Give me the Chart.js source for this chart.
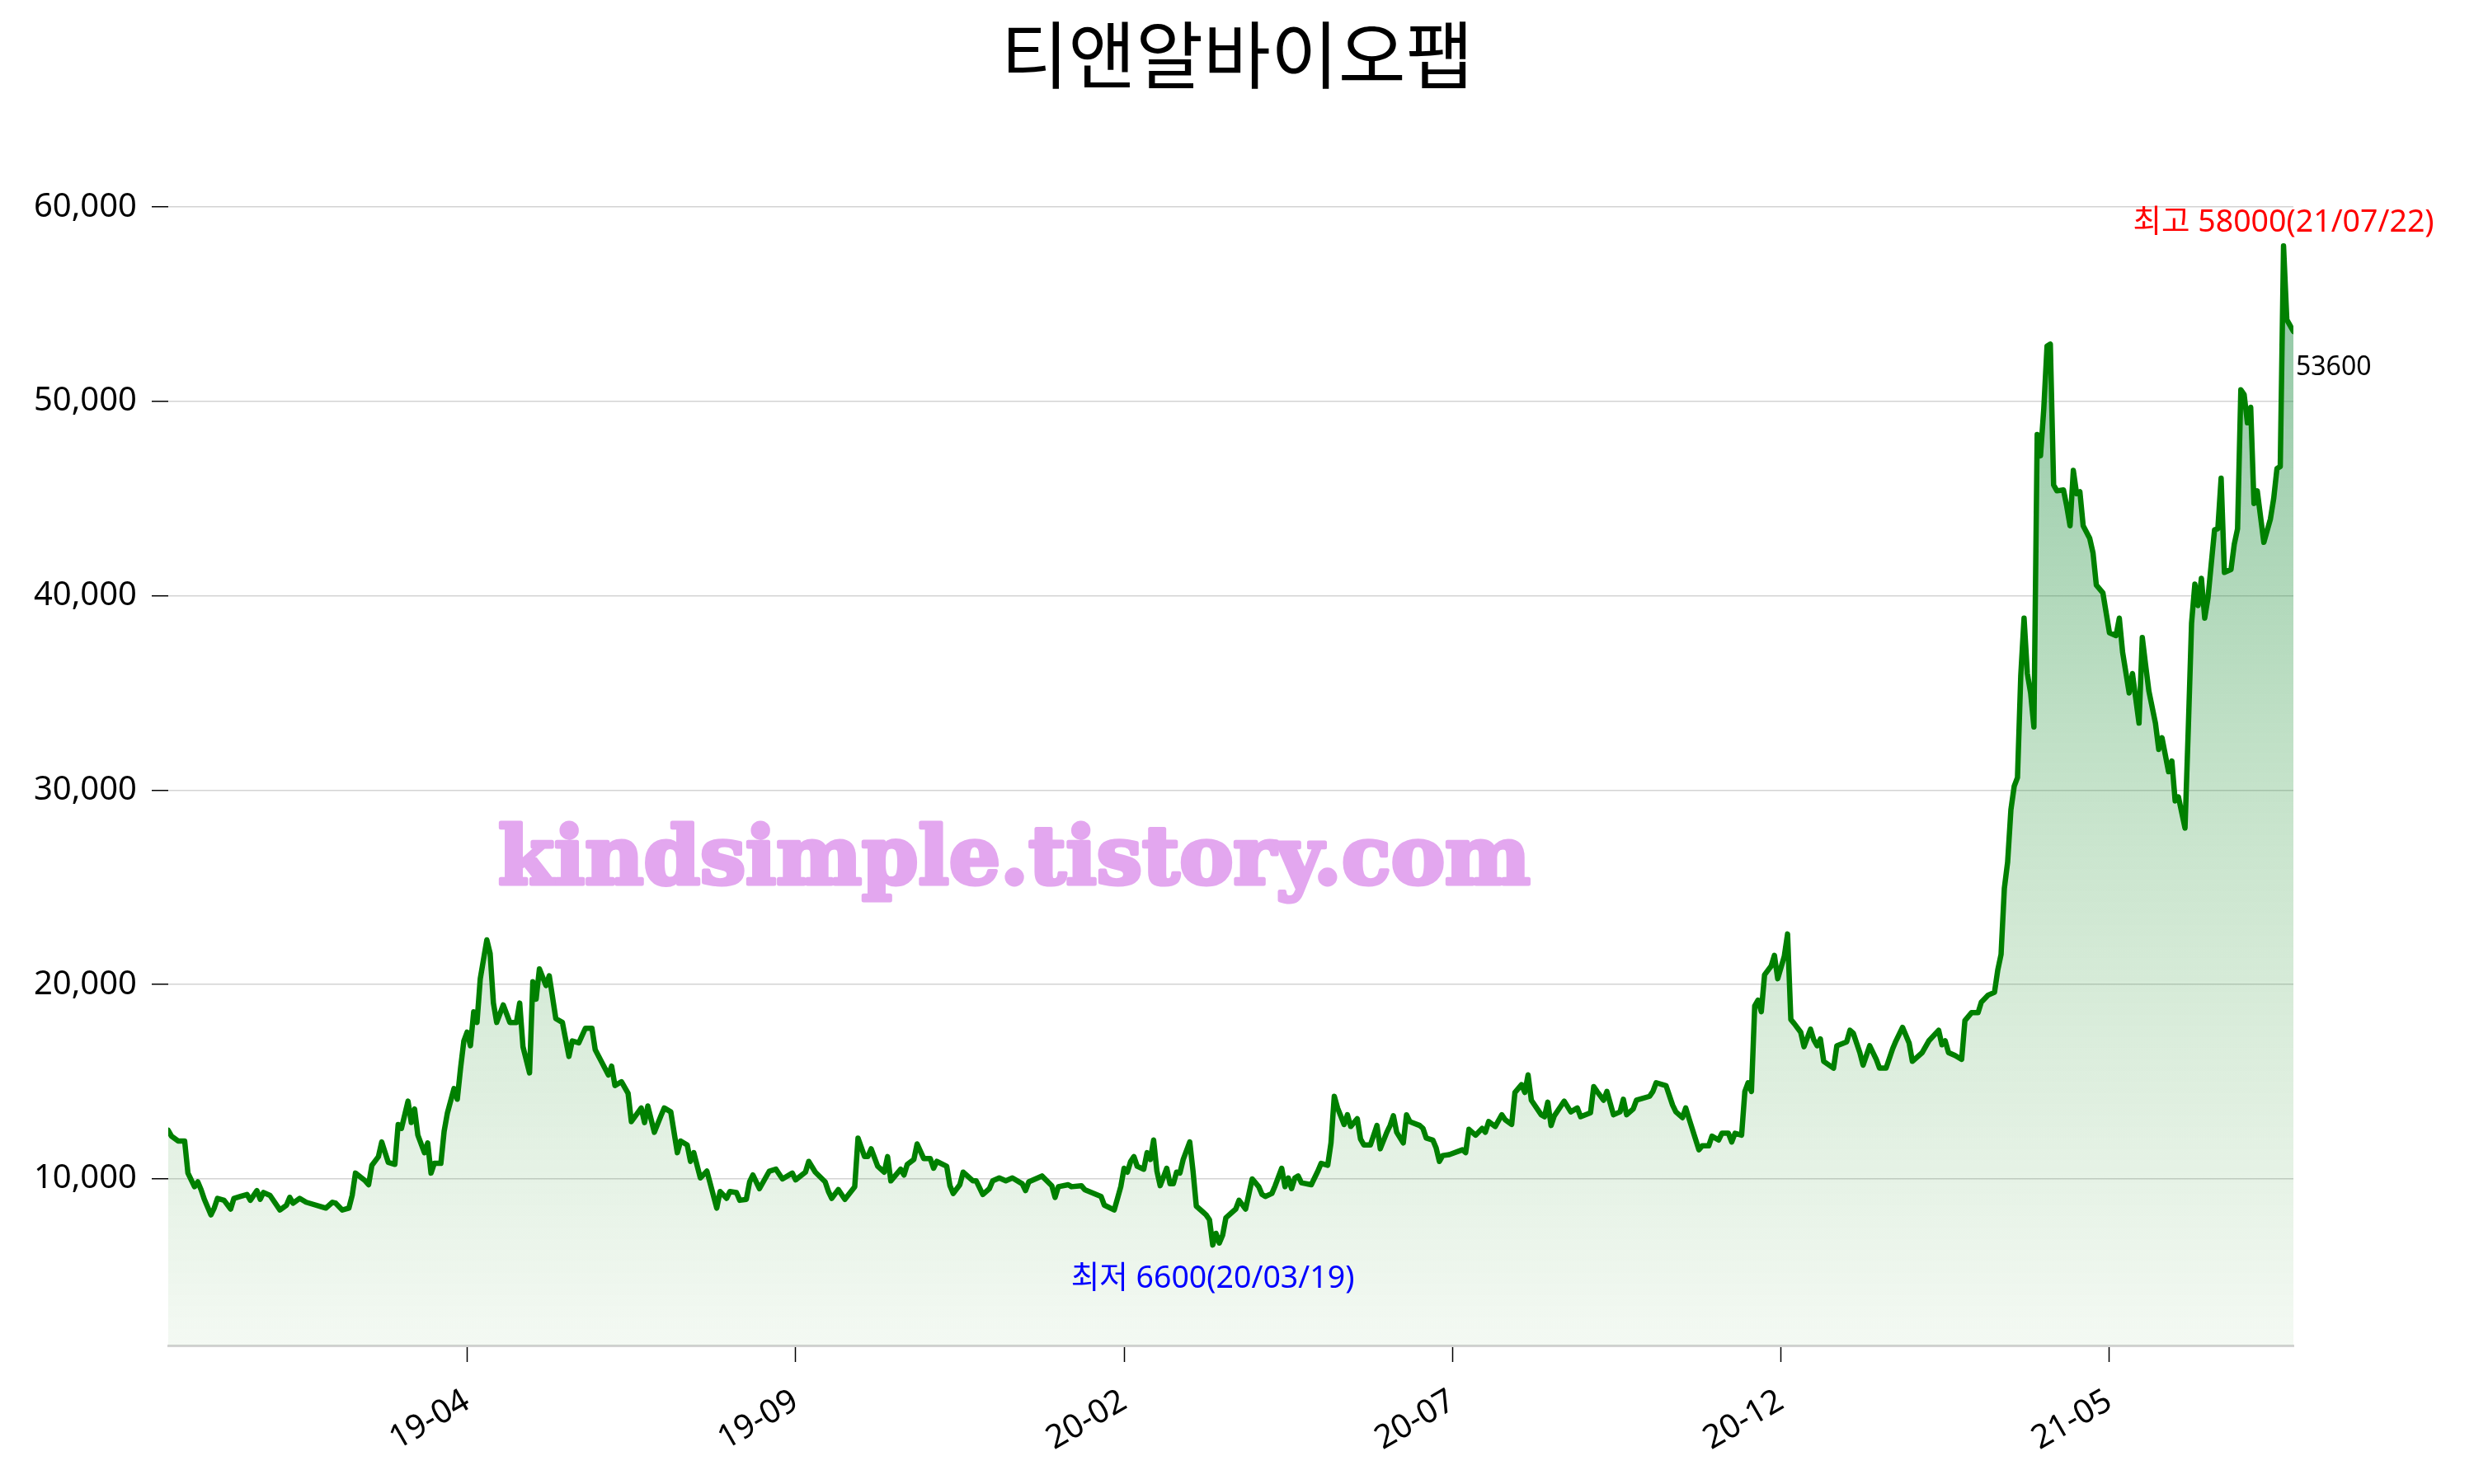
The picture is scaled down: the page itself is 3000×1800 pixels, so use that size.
<!DOCTYPE html>
<html lang="ko">
<head>
<meta charset="utf-8">
<title>티앤알바이오팹</title>
<script src="https://cdn.jsdelivr.net/npm/chart.js@4.4.1/dist/chart.umd.min.js"></script>
<style>
    html, body { margin: 0; padding: 0; background: #fff; }
    #wrap { width: 3000px; height: 1800px; }
</style>
</head>
<body>
<div id="wrap"><canvas id="priceChart" width="3000" height="1800"></canvas></div>
<script>
// ===== 1. 데이터 =====
const chartTitle = '티앤알바이오팹';

// 거래일 순번 (0 = 첫 거래일)
const dayIndex = [
    0, 1, 3, 5, 6, 8, 9, 10, 11, 13, 14, 15, 17, 19, 20, 22, 24, 25, 27, 28, 29, 31, 34, 36, 37, 38, 40, 42, 48, 50,
    51, 53, 55, 56, 57, 60, 61, 62, 64, 65, 67, 69, 70, 71, 73, 74, 75, 76, 78, 79, 80, 81, 83, 84, 85, 87, 88, 89, 90, 91,
    92, 93, 94, 95, 96, 97, 98, 99, 100, 102, 104, 106, 107, 108, 110, 111, 112, 113, 115, 116, 118, 120, 122, 123, 125, 127, 129, 130, 132, 134,
    135, 136, 138, 140, 141, 144, 145, 146, 148, 150, 151, 153, 155, 156, 158, 159, 160, 162, 164, 167,
    168, 170, 171, 173, 174, 176, 177, 178, 180, 183, 185, 187, 190, 191, 194, 195, 197, 200, 201, 202, 204, 206, 209, 210, 212, 213, 214, 216, 218, 219,
    220, 223, 224, 225, 227, 228, 230, 232, 233, 234, 237, 238, 239, 241, 242, 243, 245, 246, 248, 250, 251, 253, 255, 257, 260, 261, 262, 266, 269, 270,
    271, 274, 275, 278, 279, 284, 285, 288, 289, 290, 291, 292, 293, 294, 295, 297, 298, 299, 300, 301, 302, 304, 305, 306, 307, 308, 309, 311, 312, 313,
    315, 316, 317, 318, 319, 320, 321, 322, 324, 325, 326, 328, 330, 332, 333, 334, 336, 337, 339, 340, 341, 342,
    343, 344, 345, 348, 350, 351, 353, 354, 355, 356, 358, 359, 360, 362, 363, 364, 366, 368, 369, 371, 372, 373, 374, 376, 377, 378, 381, 382, 383, 385,
    386, 387, 388, 390, 394, 395, 396, 398, 400, 401, 402, 404, 406, 407, 409, 410, 412, 413, 414, 415, 418, 419, 420, 421, 422, 424, 425, 427, 429, 430,
    433, 434, 435, 437, 438, 440, 442, 443, 444, 446, 447, 451, 452, 453, 456, 458, 459, 461, 462, 463, 466, 467, 469, 470, 472, 473, 475, 476, 477, 479,
    480, 481, 482, 483, 484, 485, 486, 488, 489, 490, 492, 493, 494, 495, 497, 498, 500, 501, 502, 503, 504, 507, 508, 511,
    512, 513, 515, 516, 518, 520, 521, 523, 525, 526, 528, 530, 531, 534, 536, 539, 540, 541, 542, 544, 546, 547, 549, 551, 552, 554, 556, 557, 558, 559,
    560, 561, 562, 563, 564, 565, 566, 567, 568, 569, 570, 571, 572, 573, 574, 575, 577, 578, 579, 580, 581, 582, 583, 585, 586, 587, 589, 591, 593, 594,
    595, 597, 598, 600, 601, 602, 603, 605, 606, 607, 609, 610, 611, 612, 614, 615, 616, 617, 618, 619, 620, 621, 623, 624, 625, 626, 628, 629, 630, 631,
    632, 633, 634, 635, 636, 638, 640, 641, 642, 643, 644, 645, 646, 647
];

// 종가 (원)
const price = [
    12500, 12200, 11950, 11950, 10300, 9600, 9850, 9450, 8950, 8150, 8500, 9000, 8900, 8450, 9000, 9100, 9200, 8900, 9400, 8950, 9300, 9150, 8400, 8650, 9050, 8750, 9000, 8800, 8500, 8800,
    8750, 8400, 8500, 9150, 10300, 9900, 9700, 10700, 11150, 11900, 10850, 10750, 12800, 12600, 14000, 12900, 13600, 12250, 11350, 11850, 10300, 10800, 10800, 12450, 13400, 14650, 14100, 15700, 17100, 17550,
    16850, 18600, 18050, 20300, 21300, 22300, 21600, 19050, 18050, 18950, 18050, 18050, 19050, 16800, 15450, 20150, 19250, 20800, 19950, 20450, 18250, 18050, 16300, 17100, 17000, 17750, 17750, 16650, 16000, 15350,
    15800, 14800, 15000, 14400, 12950, 13650, 12900, 13750, 12400, 13250, 13650, 13450, 11350, 11950, 11750, 10900, 11350, 10050, 10400, 8500,
    9350, 9000, 9350, 9300, 8900, 8950, 9850, 10200, 9500, 10400, 10500, 10000, 10300, 9950, 10350, 10900, 10350, 9850, 9350, 9000, 9450, 8950, 9600, 12100, 11150, 11150, 11550, 10650, 10350, 11150,
    9900, 10500, 10200, 10750, 11000, 11800, 11050, 11050, 10550, 10900, 10650, 9650, 9250, 9700, 10350, 10200, 9900, 9900, 9200, 9500, 9900, 10050, 9900, 10050, 9750, 9400, 9850, 10150, 9650, 9050,
    9600, 9700, 9600, 9650, 9450, 9100, 8650, 8400, 9000, 9600, 10550, 10350, 10900, 11150, 10650, 10500, 11350, 11000, 12000, 10400, 9650, 10550, 9750, 9750, 10350, 10300, 11000, 11900, 10400, 8600,
    8300, 8150, 7900, 6600, 7200, 6700, 7100, 8000, 8300, 8450, 8900, 8450, 10000, 9600, 9200, 9100, 9250, 9650, 10550, 9600, 10050, 9500,
    10050, 10150, 9800, 9700, 10400, 10800, 10700, 11850, 14250, 13650, 12800, 13300, 12700, 13100, 12050, 11750, 11750, 12750, 11550, 12400, 12750, 13250, 12400, 11850, 13300, 12950, 12750, 12600, 12100, 12000,
    11600, 10900, 11200, 11250, 11500, 11350, 12550, 12250, 12600, 12400, 12950, 12700, 13300, 13050, 12800, 14450, 14850, 14450, 15350, 14050, 13300, 13200, 13950, 12750, 13250, 13750, 14000, 13450, 13650, 13200,
    13400, 14750, 14500, 14050, 14500, 13300, 13450, 14100, 13300, 13600, 14050, 14250, 14500, 14950, 14800, 13800, 13450, 13150, 13650, 13100, 11500, 11700, 11700, 12200, 12000, 12350, 12350, 11900, 12350, 12250,
    14500, 14950, 14500, 18900, 19200, 18600, 20500, 20950, 21500, 20300, 21450, 22600, 18200, 18000, 17550, 16800, 17700, 17150, 16850, 17200, 16050, 15700, 16850, 17050,
    17650, 17500, 16500, 15850, 16850, 16150, 15700, 15700, 16700, 17100, 17800, 17000, 16050, 16500, 17100, 17650, 16900, 17100, 16500, 16350, 16150, 18150, 18550, 18550, 19100, 19450, 19600, 20750, 21550, 24950,
    26300, 29000, 30200, 30650, 35900, 38850, 36000, 35000, 33250, 48300, 47200, 49600, 52850, 52950, 45700, 45400, 45450, 44600, 43600, 46450, 45250, 45350, 43600, 42950, 42200, 40550, 40150, 38100, 37950, 38850,
    37100, 35000, 36000, 33450, 37850, 36450, 35100, 33450, 32100, 32700, 30950, 31500, 29450, 29650, 28050, 33150, 38600, 40600, 39500, 40900, 38850, 39900, 43400, 43450, 46050, 41200, 41350, 42650, 43450, 50600,
    50350, 48900, 49700, 44750, 45400, 42750, 43950, 45000, 46550, 46650, 58000, 54200, 53900, 53600
];

const xTickDays = [91, 191, 291, 391, 491, 591];
const xTickLabels = ['19-04', '19-09', '20-02', '20-07', '20-12', '21-05'];
const yTicks = [10000, 20000, 30000, 40000, 50000, 60000];
const highDate = '21/07/22';
const lowDate = '20/03/19';
const watermark = 'kindsimple.tistory.com';

document.addEventListener('DOMContentLoaded', () => {
    const ctx = document.getElementById('priceChart').getContext('2d');
    Chart.defaults.font.family = "'Noto Sans', 'Noto Sans CJK KR', sans-serif";
    Chart.defaults.color = '#000';

    // ===== 2. 워터마크 + 최고/최저/현재가 표시 =====
    const markPlugin = {
        id: 'markPlugin',
        beforeDatasetsDraw(chart) {
            const c = chart.ctx;
            c.save();
            c.font = 'bold 98px "DejaVu Serif"';
            c.fillStyle = '#e3a7ef';
            c.strokeStyle = '#e3a7ef';
            c.lineWidth = 5;
            c.lineJoin = 'round';
            c.textAlign = 'left';
            c.textBaseline = 'alphabetic';
            c.strokeText(watermark, 604, 1072);
            c.fillText(watermark, 604, 1072);
            c.restore();
        },
        afterDatasetsDraw(chart) {
            const c = chart.ctx;
            const { x, y } = chart.scales;
            const hi = price.indexOf(Math.max(...price));
            const lo = price.indexOf(Math.min(...price));
            const last = price.length - 1;
            c.save();
            c.textBaseline = 'alphabetic';
            c.textAlign = 'center';
            c.font = "37.5px 'Noto Sans', 'Noto Sans CJK KR', sans-serif";
            c.fillStyle = '#ff0000';
            c.fillText(`최고 ${price[hi]}(${highDate})`, x.getPixelForValue(dayIndex[hi]), y.getPixelForValue(price[hi]) - 17);
            c.fillStyle = '#0000ff';
            c.fillText(`최저 ${price[lo]}(${lowDate})`, x.getPixelForValue(dayIndex[lo]), y.getPixelForValue(price[lo]) + 52);
            c.textAlign = 'left';
            c.font = "32px 'Noto Sans', sans-serif";
            c.fillStyle = '#000';
            c.fillText(String(price[last]), x.getPixelForValue(dayIndex[last]) + 3, y.getPixelForValue(price[last]) + 53);
            c.restore();
        }
    };

    // ===== 3. 차트 =====
    new Chart(ctx, {
        type: 'line',
        data: {
            datasets: [{
                data: dayIndex.map((d, i) => ({ x: d, y: price[i] })),
                borderColor: '#008000',
                borderWidth: 6.5,
                borderJoinStyle: 'round',
                borderCapStyle: 'round',
                pointRadius: 0,
                tension: 0,
                fill: 'start',
                backgroundColor: (context) => {
                    const area = context.chart.chartArea;
                    if (!area) return 'rgba(10,130,50,0.2)';
                    const g = context.chart.ctx.createLinearGradient(0, area.top, 0, area.bottom);
                    g.addColorStop(0, 'rgba(10,130,60,0.5)');
                    g.addColorStop(0.55, 'rgba(20,140,40,0.24)');
                    g.addColorStop(1, 'rgba(30,140,20,0.05)');
                    return g;
                }
            }]
        },
        options: {
            responsive: false,
            animation: false,
            devicePixelRatio: 1,
            layout: { padding: 0 },
            plugins: {
                legend: { display: false },
                tooltip: { enabled: false },
                title: {
                    display: true,
                    text: chartTitle,
                    color: '#000',
                    font: { family: "'Noto Sans CJK KR', sans-serif", size: 89, weight: 'normal' },
                    padding: { top: 13, bottom: 60.6 }
                }
            },
            scales: {
                x: {
                    type: 'linear',
                    min: 0,
                    max: dayIndex[dayIndex.length - 1],
                    afterBuildTicks: (scale) => { scale.ticks = xTickDays.map(v => ({ value: v })); },
                    afterFit: (scale) => { scale.height = 168; },
                    ticks: {
                        autoSkip: false,
                        minRotation: 30,
                        maxRotation: 30,
                        padding: 24,
                        font: { size: 40 },
                        callback: (v) => {
                            const i = xTickDays.indexOf(v);
                            return i >= 0 ? xTickLabels[i] : '';
                        }
                    },
                    grid: {
                        drawOnChartArea: false,
                        drawTicks: true,
                        tickLength: 20,
                        tickColor: '#000',
                        tickWidth: 1.5
                    },
                    border: { display: true, color: '#d3d3d3', width: 3 }
                },
                y: {
                    type: 'linear',
                    position: 'left',
                    min: 1430,
                    max: 63000,
                    afterBuildTicks: (scale) => { scale.ticks = yTicks.map(v => ({ value: v })); },
                    afterFit: (scale) => { scale.width = 204; },
                    ticks: {
                        padding: 18,
                        font: { size: 40 },
                        callback: (v) => v.toLocaleString('en-US')
                    },
                    grid: {
                        color: '#d3d3d3',
                        lineWidth: 1.5,
                        drawTicks: true,
                        tickLength: 20,
                        tickColor: '#000',
                        tickWidth: 1.5
                    },
                    border: { display: false }
                },
                yRight: {
                    type: 'linear',
                    position: 'right',
                    afterFit: (scale) => { scale.width = 219; },
                    ticks: { display: false },
                    grid: { display: false, drawTicks: false },
                    border: { display: false }
                }
            }
        },
        plugins: [markPlugin]
    });
});
</script>
</body>
</html>
